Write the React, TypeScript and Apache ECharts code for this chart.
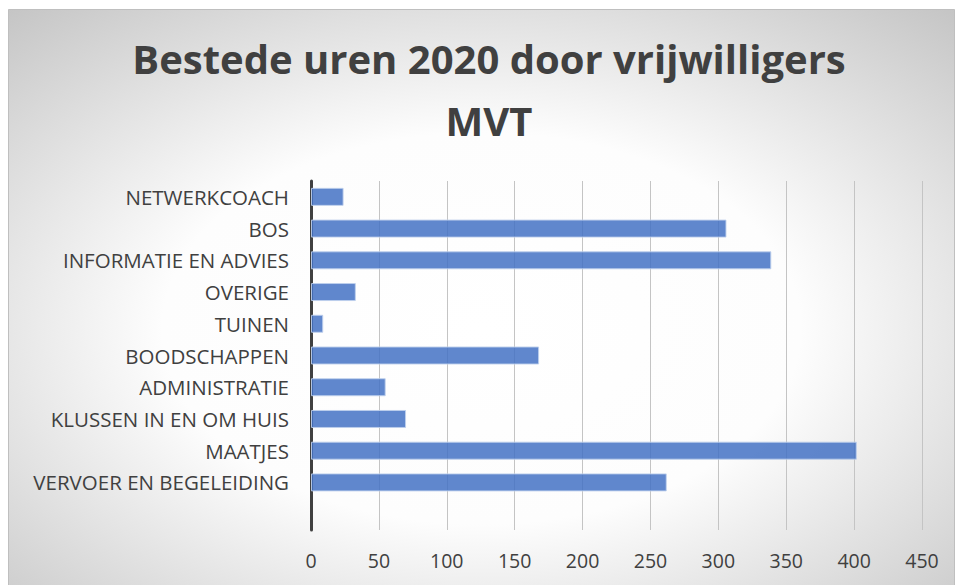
import React, { useEffect, useRef } from "react";
import * as echarts from "echarts";

const categories: string[] = [
  "",
  "VERVOER EN BEGELEIDING",
  "MAATJES",
  "KLUSSEN IN EN OM HUIS",
  "ADMINISTRATIE",
  "BOODSCHAPPEN",
  "TUINEN",
  "OVERIGE",
  "INFORMATIE EN ADVIES",
  "BOS",
  "NETWERKCOACH",
];
const hours: (number | null)[] = [null, 262, 402, 70, 55, 168, 9, 33, 339, 306, 24];
const titleText = "Bestede uren 2020 door vrijwilligers\nMVT";

export default function App() {
  const ref = useRef<HTMLDivElement>(null);
  useEffect(() => {
    if (!ref.current) return;
    const chart = echarts.init(ref.current, null, { renderer: "svg" });
    chart.setOption({
      animation: false,
      backgroundColor: "#ffffff",
      graphic: [
        {
          type: "rect",
          silent: true,
          z: -10,
          shape: { x: 8.5, y: 9.5, width: 946, height: 580 },
          style: {
            fill: new echarts.graphic.RadialGradient(0.5, 0.55, 0.75, [
              { offset: 0, color: "#ffffff" },
              { offset: 0.45, color: "#fdfdfd" },
              { offset: 1, color: "#c4c4c4" },
            ]),
            stroke: "#bfbfbf",
            lineWidth: 1,
          },
        },
      ],
      title: {
        text: titleText,
        left: 489,
        textAlign: "center",
        top: 27,
        padding: 0,
        textStyle: {
          fontFamily: "Open Sans",
          fontWeight: "bold",
          fontSize: 40,
          lineHeight: 62,
          color: "#404040",
        },
      },
      grid: { left: 311, right: 34, top: 181, bottom: 55, containLabel: false },
      xAxis: {
        type: "value",
        min: 0,
        max: 450,
        interval: 50,
        axisLine: { show: false },
        axisTick: { show: false },
        axisLabel: {
          fontFamily: "Open Sans",
          fontSize: 19.5,
          color: "#404040",
          margin: 20,
        },
        splitLine: { show: true, lineStyle: { color: "#c4c4c4", width: 1 } },
      },
      yAxis: {
        type: "category",
        data: categories,
        axisLine: { show: true, lineStyle: { color: "#404040", width: 3 } },
        axisTick: { show: false },
        axisLabel: {
          fontFamily: "Open Sans",
          fontSize: 20.5,
          color: "#404040",
          margin: 22,
        },
      },
      series: [
        {
          type: "bar",
          data: hours,
          barWidth: 18,
          itemStyle: {
            color: "rgba(68,114,196,0.85)",
            borderColor: "rgba(190,207,236,0.9)",
            borderWidth: 1,
          },
        },
      ],
    });
    return () => chart.dispose();
  }, []);
  return (
    <div
      ref={ref}
      style={{ position: "fixed", left: 0, top: 0, width: 956, height: 585 }}
    />
  );
}
